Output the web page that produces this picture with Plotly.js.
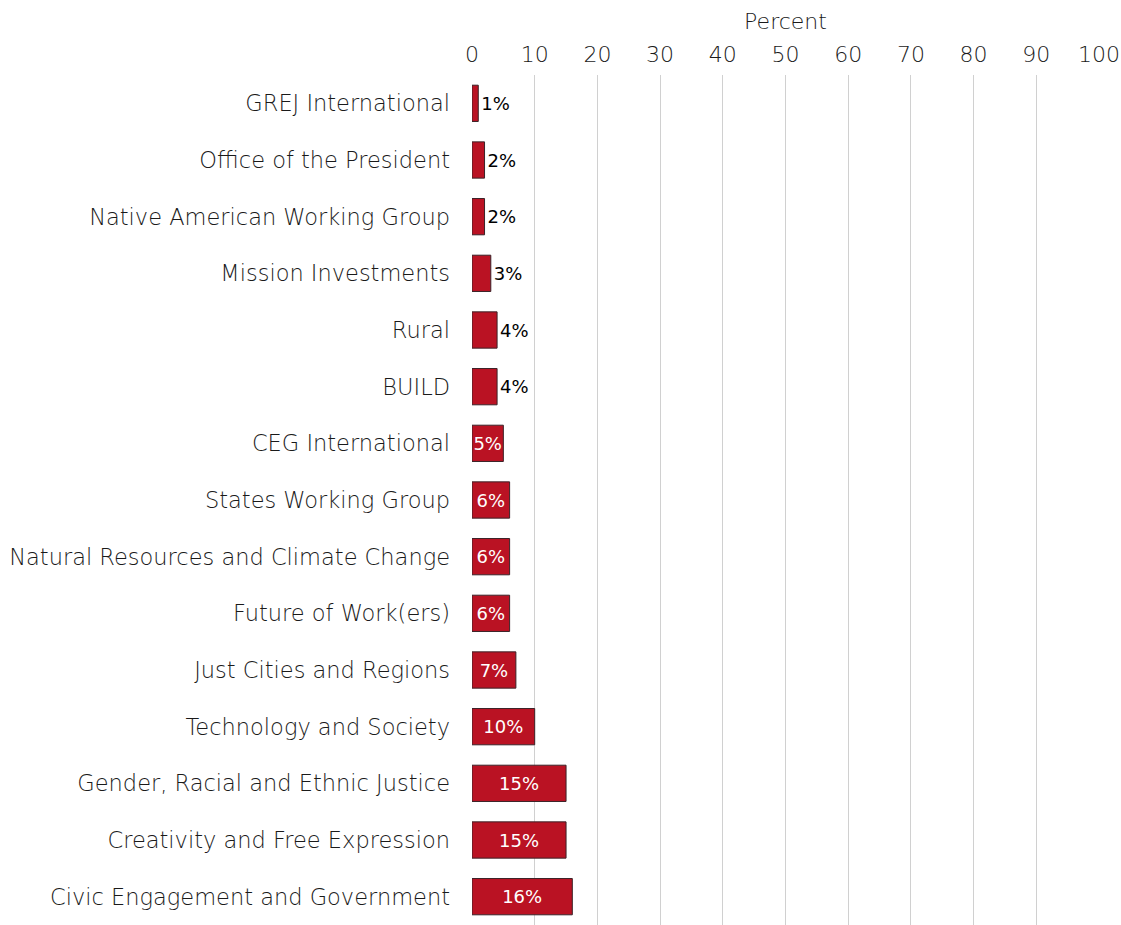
<!DOCTYPE html>
<html>
<head>
<meta charset="utf-8">
<script src="https://cdn.plot.ly/plotly-3.0.1.min.js"></script>
<style>
    body { margin: 0; background: #fff; }
    #chart { width: 1121px; height: 925px; }
</style>
</head>
<body>
<div id="chart"></div>
<script>
// Groups, top to bottom
const groups = [
    "GREJ International",
    "Office of the President",
    "Native American Working Group",
    "Mission Investments",
    "Rural",
    "BUILD",
    "CEG International",
    "States Working Group",
    "Natural Resources and Climate Change",
    "Future of Work(ers)",
    "Just Cities and Regions",
    "Technology and Society",
    "Gender, Racial and Ethnic Justice",
    "Creativity and Free Expression",
    "Civic Engagement and Government"
];
const percents = [1, 2, 2, 3, 4, 4, 5, 6, 6, 6, 7, 10, 15, 15, 16];
const xTicks = [0, 10, 20, 30, 40, 50, 60, 70, 80, 90, 100];

// small bars get their label outside
const positions = percents.map(v => v < 5 ? 'outside' : 'inside');
const labels = percents.map(v => v + '%');

const fontFamily = 'DejaVu Sans, sans-serif';

const trace = {
    type: 'bar',
    orientation: 'h',
    y: groups,
    x: percents,
    text: labels,
    textposition: positions,
    textangle: 0,
    insidetextanchor: 'middle',
    constraintext: 'none',
    cliponaxis: false,
    insidetextfont: { color: '#ffffff', size: 18, family: fontFamily, weight: 400 },
    outsidetextfont: { color: '#000000', size: 18, family: fontFamily, weight: 400 },
    marker: {
        color: '#ba1223',
        line: { color: '#3a2328', width: 1 }
    },
    hoverinfo: 'none'
};

const layout = {
    width: 1121,
    height: 925,
    margin: { t: 75, b: 0, l: 472, r: 22 },
    paper_bgcolor: '#fff',
    plot_bgcolor: '#fff',
    bargap: 0.36,
    font: { family: fontFamily, color: '#1a1a1a', size: 22, weight: 300 },
    showlegend: false,
    xaxis: {
        side: 'top',
        range: [0, 100],
        tickvals: xTicks,
        ticktext: xTicks.map(String),
        showgrid: true,
        gridcolor: '#d0d0d0',
        gridwidth: 1,
        zeroline: false,
        showline: false,
        ticks: '',
        ticklabelstandoff: 8,
        tickfont: { size: 22, color: '#1a1a1a', weight: 300 },
        title: { text: 'Percent', font: { size: 22, color: '#1a1a1a', weight: 300 }, standoff: 5 }
    },
    yaxis: {
        autorange: 'reversed',
        showgrid: false,
        zeroline: false,
        showline: false,
        ticks: '',
        ticklabelstandoff: 21,
        tickfont: { size: 22.5, color: '#1a1a1a', weight: 300 }
    }
};

Plotly.newPlot('chart', [trace], layout, { displayModeBar: false, staticPlot: true });
</script>
</body>
</html>
